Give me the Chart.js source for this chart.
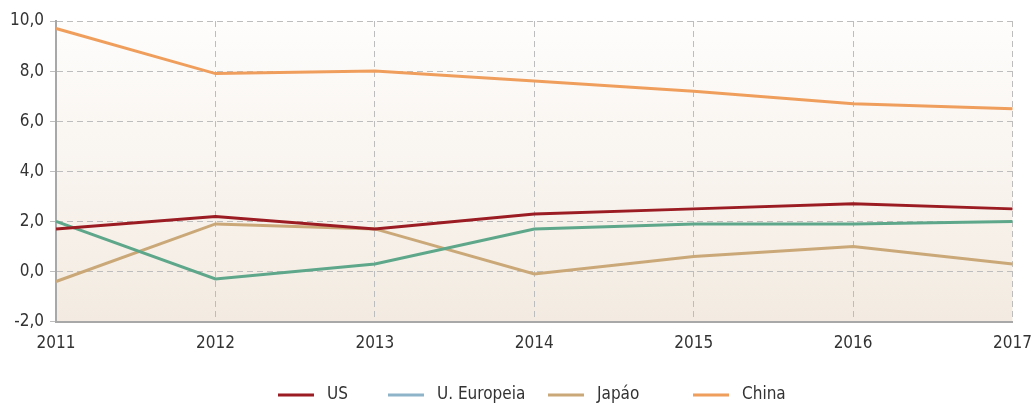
<!DOCTYPE html>
<html>
<head>
<meta charset="utf-8">
<script src="https://cdn.jsdelivr.net/npm/chart.js@4/dist/chart.umd.min.js"></script>
<style>
  html, body { margin: 0; padding: 0; background: #ffffff; }
  #wrap { width: 1032px; height: 408px; position: relative; }
</style>
</head>
<body>
<div id="wrap"><canvas id="c" width="1032" height="408"></canvas></div>
<script>
const years = ['2011', '2012', '2013', '2014', '2015', '2016', '2017'];
const seriesNames = ['US', 'U. Europeia', 'Japáo', 'China'];
const usValues = [1.7, 2.2, 1.7, 2.3, 2.5, 2.7, 2.5];
const euValues = [2.0, -0.3, 0.3, 1.7, 1.9, 1.9, 2.0];
const japanValues = [-0.4, 1.9, 1.7, -0.1, 0.6, 1.0, 0.3];
const chinaValues = [9.7, 7.9, 8.0, 7.6, 7.2, 6.7, 6.5];
const lineColors = ['#9b1c22', '#5ea78b', '#cba878', '#f09e5c'];
const legendColors = ['#9b1c22', '#8db4c9', '#cba878', '#f09e5c'];
const yTicks = [-2, 0, 2, 4, 6, 8, 10];

const FONT = '"DejaVu Sans Condensed", "Liberation Sans Narrow", sans-serif';
const FONT_SIZE = 17;

const bgPlugin = {
  id: 'plotBg',
  beforeDraw(chart) {
    const a = chart.chartArea;
    const ctx = chart.ctx;
    const g = ctx.createLinearGradient(0, a.top, 0, a.bottom);
    g.addColorStop(0, '#fefdfc');
    g.addColorStop(1, '#f3ebe1');
    ctx.save();
    ctx.fillStyle = g;
    ctx.fillRect(a.left, a.top, a.right - a.left, a.bottom - a.top);
    ctx.restore();
  }
};

const legendPlugin = {
  id: 'bottomLegend',
  afterDraw(chart) {
    const ctx = chart.ctx;
    const sampleW = 36, gapText = 13, y = 395;
    const starts = [278, 388, 548, 693];
    ctx.save();
    ctx.font = FONT_SIZE + 'px ' + FONT;
    ctx.textBaseline = 'middle';
    ctx.textAlign = 'left';
    chart.data.datasets.forEach((d, i) => {
      const x = starts[i];
      ctx.fillStyle = legendColors[i];
      ctx.fillRect(x, y - 1.5, sampleW, 3);
      ctx.fillStyle = '#333333';
      ctx.fillText(d.label, x + sampleW + gapText, y);
    });
    ctx.restore();
  }
};

const allValues = [usValues, euValues, japanValues, chinaValues];

new Chart(document.getElementById('c'), {
  type: 'line',
  data: {
    labels: years,
    datasets: seriesNames.map((n, i) => ({
      label: n,
      data: allValues[i],
      borderColor: lineColors[i],
      backgroundColor: legendColors[i],
      borderWidth: 3,
      pointRadius: 0,
      tension: 0,
      fill: false
    }))
  },
  options: {
    responsive: false,
    animation: false,
    devicePixelRatio: 1,
    layout: { padding: { top: 21, left: 4, right: 0, bottom: 42 } },
    plugins: {
      tooltip: { enabled: false },
      legend: { display: false }
    },
    scales: {
      x: {
        afterFit(scale) { scale.paddingRight = 19.5; },
        grid: {
          color: '#bdbdbd',
          lineWidth: 1,
          drawTicks: false,
          tickLength: 0
        },
        border: { display: true, color: '#a8a8a8', width: 2, dash: [6, 4] },
        ticks: {
          font: { family: FONT, size: FONT_SIZE },
          color: '#333333',
          padding: 12,
          maxRotation: 0
        }
      },
      y: {
        min: -2,
        max: 10,
        afterBuildTicks(scale) {
          scale.ticks = yTicks.map(v => ({ value: v }));
        },
        grid: {
          color: '#bdbdbd',
          lineWidth: 1,
          tickLength: 6,
          drawTicks: true
        },
        border: { display: true, color: '#a8a8a8', width: 2, dash: [6, 4] },
        ticks: {
          font: { family: FONT, size: FONT_SIZE },
          color: '#333333',
          padding: 6,
          callback: v => v.toFixed(1).replace('.', ',')
        }
      }
    }
  },
  plugins: [bgPlugin, legendPlugin]
});
</script>
</body>
</html>
